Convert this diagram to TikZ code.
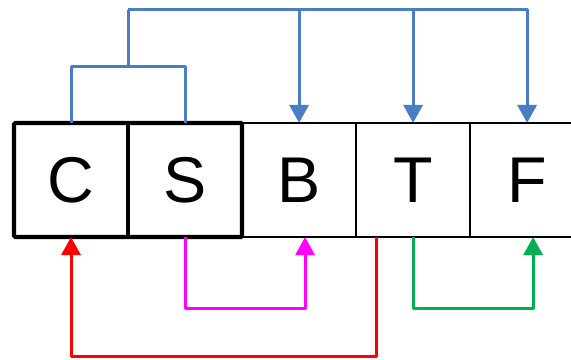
\documentclass[tikz,border=0pt]{standalone}
\usepackage{fontspec}
\setmainfont{Liberation Sans}
\usepackage{xcolor}
\usetikzlibrary{positioning,arrows.meta}
\definecolor{linkblue}{HTML}{4A7EC4}
\definecolor{linkgreen}{HTML}{00B050}
\definecolor{linkpink}{HTML}{FF00FF}
\definecolor{linkred}{HTML}{FF0000}
\tikzset{cell/.style={minimum width=2.85cm, minimum height=2.85cm, inner sep=0pt, outer sep=0pt, font=\fontsize{46}{48}\selectfont},
  link/.style={line width=0.075cm, line join=round, -{Triangle[width=0.475cm,length=0.45cm]}}}

\begin{document}
\begin{tikzpicture}[x=0.025cm, y=-0.025cm]
    \useasboundingbox (0,0) rectangle (571,360);
    \node [cell] (c) at (71,180) {C};
    \node [cell, right=0pt of c] (s) {S};
    \node [cell, right=0pt of s] (b) {B};
    \node [cell, right=0pt of b] (t) {T};
    \node [cell, right=0pt of t] (f) {F};
    \draw [line width=0.05cm] (s.north east) -- (f.north east);
    \draw [line width=0.05cm] (s.south east) -- (f.south east);
    \foreach \n in {b,t} {
      \draw [line width=0.05cm] (\n.north east) -- (\n.south east);
    }
    \draw [line width=0.11cm, rounded corners=1pt] (c.north west) rectangle (s.south east);
    \draw [line width=0.11cm] (c.north east) -- (c.south east);

    \coordinate (mid) at (128,67);
    \coordinate (top) at (128,10);
    \draw [link, linkblue, -] (c.north) |- (mid) -| (s.north);
    \draw [link, linkblue, -] (mid) -- (top);
    \foreach \n in {b,t,f} {
      \draw [link, linkblue] (top) -| (\n.north);
    }

    \coordinate (low) at (0,308);
    \coordinate (bottom) at (0,356);
    \draw [link, linkpink] (s.south) -- (s.south |- low) -| ([xshift=0.15cm]b.south);
    \draw [link, linkgreen] (t.south) -- (t.south |- low) -| ([xshift=0.15cm]f.south);
    \draw [link, linkred] ([xshift=-0.925cm]t.south) -- ([xshift=-0.925cm]t.south |- bottom) -| (c.south);
  \end{tikzpicture}
\end{document}
